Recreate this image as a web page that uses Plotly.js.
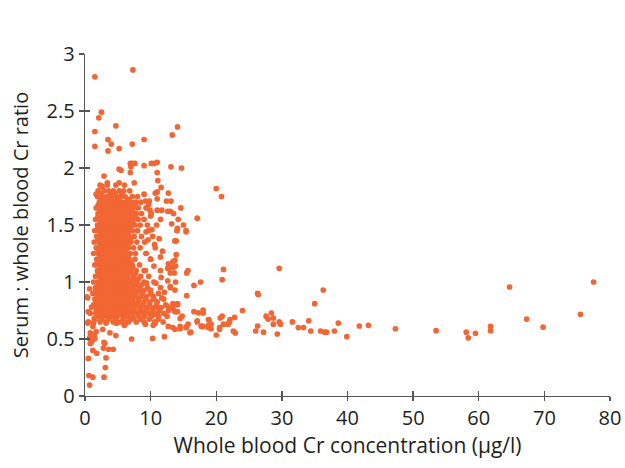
<!DOCTYPE html>
<html>
<head>
<meta charset="utf-8">
<script src="https://cdn.plot.ly/plotly-3.0.1.min.js"></script>
<style>html,body{margin:0;padding:0;background:#fff;}#chart{width:625px;height:468px;}</style>
</head>
<body>
<div id="chart"></div>
<script>
// Dense core of the cloud: one y level per row, x values read across that row
const coreRowY = [1.85, 1.80, 1.75, 1.70, 1.65, 1.60, 1.55, 1.50, 1.45, 1.40, 1.35, 1.30, 1.25,
                  1.20, 1.15, 1.10, 1.05, 1.00, 0.95, 0.90, 0.85, 0.80, 0.75, 0.70, 0.65];
const coreRowX = [
  [2.3, 3.4, 4.7, 6.0],
  [2.0, 2.9, 3.6, 4.3, 5.2, 5.9, 6.8],
  [1.9, 2.6, 3.3, 4.0, 4.7, 5.4, 6.1, 7.2, 8.0],
  [2.2, 2.9, 3.6, 4.2, 4.9, 5.6, 6.2, 7.0, 7.7, 8.5],
  [1.7, 2.4, 3.1, 3.8, 4.5, 5.2, 5.9, 6.6, 7.3, 8.1, 9.3],
  [2.0, 2.7, 3.4, 4.1, 4.8, 5.5, 6.3, 7.0, 7.8, 8.6, 10.1],
  [1.6, 2.3, 3.0, 3.7, 4.4, 5.1, 5.8, 6.5, 7.3, 8.1, 9.0],
  [1.9, 2.6, 3.3, 4.0, 4.7, 5.4, 6.1, 6.8, 7.6, 8.4, 9.5, 10.9],
  [1.5, 2.2, 2.9, 3.6, 4.3, 5.0, 5.7, 6.4, 7.2, 8.0, 9.7],
  [1.8, 2.5, 3.2, 3.9, 4.6, 5.3, 6.0, 6.7, 7.5, 8.6, 10.3],
  [1.4, 2.1, 2.8, 3.5, 4.2, 4.9, 5.6, 6.3, 7.0, 7.9, 9.1],
  [1.7, 2.4, 3.1, 3.8, 4.5, 5.2, 5.9, 6.6, 7.4, 8.4, 10.7],
  [1.3, 2.0, 2.7, 3.4, 4.1, 4.8, 5.5, 6.2, 6.9, 7.7, 9.3],
  [1.8, 2.5, 3.2, 3.9, 4.6, 5.3, 6.0, 6.7, 7.6, 10.0],
  [1.5, 2.2, 2.9, 3.6, 4.3, 5.0, 5.7, 6.4, 7.2, 8.3],
  [1.9, 2.6, 3.3, 4.0, 4.7, 5.4, 6.1, 6.9, 7.8, 9.2, 11.5],
  [1.6, 2.3, 3.0, 3.7, 4.4, 5.1, 5.8, 6.5, 7.4, 8.5],
  [1.3, 2.0, 2.7, 3.4, 4.1, 4.8, 5.5, 6.2, 7.0, 7.9, 9.0, 10.5],
  [1.6, 2.3, 3.0, 3.7, 4.4, 5.1, 5.8, 6.6, 7.4, 8.3, 9.5],
  [1.2, 1.9, 2.6, 3.3, 4.0, 4.7, 5.4, 6.1, 6.9, 7.7, 8.7, 10.0, 11.2],
  [1.5, 2.2, 2.9, 3.6, 4.3, 5.0, 5.7, 6.5, 7.3, 8.2, 9.2, 10.5, 12.0],
  [1.3, 2.0, 2.7, 3.4, 4.1, 4.8, 5.5, 6.3, 7.1, 7.9, 8.8, 9.8, 10.9, 12.3],
  [1.7, 2.4, 3.1, 3.8, 4.5, 5.2, 6.0, 6.7, 7.5, 8.4, 9.3, 10.3, 11.3, 12.7],
  [2.1, 2.8, 3.5, 4.2, 4.9, 5.7, 6.5, 7.3, 8.2, 9.1, 10.1, 11.2, 12.5],
  [3.2, 4.3, 5.4, 6.6, 7.8, 9.0, 10.6, 11.9]
];

// In-between rows of the solid centre of the cloud
const coreHalfY = [1.775, 1.725, 1.675, 1.625, 1.575, 1.525, 1.475, 1.425, 1.375, 1.325, 1.275, 1.225,
                   1.175, 1.125, 1.075, 1.025, 0.975, 0.925, 0.875, 0.825, 0.775, 0.725, 0.675];
const coreHalfX = [
  [2.5, 3.9, 4.6, 5.6],
  [2.35, 3.05, 3.75, 4.45, 5.15, 6.55],
  [2.0, 2.7, 3.4, 4.1, 4.8, 5.5, 6.2, 6.9, 7.7],
  [2.35, 3.05, 3.75, 4.45, 5.15, 5.85, 6.55, 7.3],
  [2.0, 2.7, 3.4, 4.1, 4.8, 5.5, 6.2, 6.9, 7.7],
  [2.35, 3.05, 3.75, 4.45, 5.15, 5.85, 6.55, 7.3],
  [2.0, 2.7, 3.4, 4.1, 4.8, 5.5, 6.2, 6.9],
  [2.35, 3.05, 3.75, 4.45, 5.15, 5.85, 6.55],
  [2.0, 2.7, 3.4, 4.1, 4.8, 5.5, 6.2, 6.9],
  [2.35, 3.05, 3.75, 4.45, 5.15, 5.85, 6.55],
  [2.0, 2.7, 3.4, 4.1, 4.8, 5.5, 6.2],
  [2.35, 3.05, 3.75, 4.45, 5.15, 5.85, 6.55],
  [2.0, 2.7, 3.4, 4.1, 4.8, 5.5, 6.2, 6.9],
  [2.35, 3.05, 3.75, 4.45, 5.15, 5.85, 6.55, 7.3],
  [2.0, 2.7, 3.4, 4.1, 4.8, 5.5, 6.2, 6.9, 7.7],
  [2.35, 3.05, 3.75, 4.45, 5.15, 5.85, 6.55, 7.3, 8.1],
  [2.0, 2.7, 3.4, 4.1, 4.8, 5.5, 6.2, 6.9, 7.7, 8.6],
  [1.65, 2.35, 3.05, 3.75, 4.45, 5.15, 5.85, 6.55, 7.3, 8.1, 9.0, 9.9],
  [1.85, 2.55, 3.25, 3.95, 4.65, 5.35, 6.05, 6.8, 7.6, 8.5, 9.4, 10.4],
  [1.65, 2.35, 3.05, 3.75, 4.45, 5.15, 5.85, 6.55, 7.3, 8.1, 9.0, 9.9, 11.0],
  [1.85, 2.55, 3.25, 3.95, 4.65, 5.35, 6.05, 6.8, 7.6, 8.5, 9.4, 10.4, 11.6],
  [1.65, 2.35, 3.05, 3.75, 4.45, 5.15, 5.85, 6.55, 7.3, 8.1, 9.0, 9.9, 11.0],
  [2.5, 3.6, 4.7, 5.9, 7.1, 8.5, 9.8, 11.2]
];

// Highest points (ratio above ~2.1)
const upperX = [1.5, 7.3, 2.5, 2.1, 1.5, 4.7, 3.5, 4.0, 3.5, 5.2, 7.2, 9.0, 1.5, 13.3, 14.1];
const upperY = [2.80, 2.86, 2.49, 2.44, 2.32, 2.37, 2.25, 2.21, 2.15, 2.17, 2.21, 2.25, 2.19, 2.29, 2.36];

// Points around ratio 1.35 - 2.05 at the edge of the cloud
const highX = [5.2, 5.5, 6.9, 7.2, 7.6, 7.0, 6.9, 9.0, 10.1, 10.5,
               11.0, 11.0, 13.1, 14.7, 2.9, 11.1, 11.6, 11.0, 10.7, 9.0,
               12.7, 5.2, 7.5, 2.6, 2.0, 3.4, 12.4, 13.1, 9.2, 9.8,
               11.0, 11.7, 13.0, 11.0, 9.9, 9.7, 10.0, 11.5, 13.2, 14.1,
               15.4, 10.2, 9.3, 2.5, 1.7, 2.5, 14.2, 15.0, 13.5, 12.6,
               14.6, 17.1, 14.0, 15.4, 13.7, 13.9];
const highY = [1.99, 1.98, 2.04, 2.04, 2.04, 2.01, 1.96, 2.02, 2.04, 2.04,
               2.05, 1.96, 2.01, 2.00, 1.93, 1.89, 1.83, 1.79, 1.78, 1.77,
               1.78, 1.87, 1.87, 1.84, 1.77, 1.87, 1.71, 1.71, 1.71, 1.71,
               1.73, 1.63, 1.62, 1.63, 1.63, 1.68, 1.58, 1.55, 1.51, 1.47,
               1.45, 1.46, 1.44, 1.70, 1.77, 1.84, 1.55, 1.50, 1.60, 1.62,
               1.65, 1.56, 1.45, 1.44, 1.36, 1.36];

// Right flank of the cloud (about 5 - 18 ug/l)
const midX = [13.9, 13.4, 13.7, 13.8, 13.1, 13.6, 13.0, 15.7, 15.5, 16.6,
              13.8, 13.7, 13.0, 15.5, 13.4, 14.1, 13.4, 14.1, 14.8, 16.6,
              17.3, 17.1, 15.7, 14.5, 13.7, 13.4, 15.4, 16.1, 11.5, 12.7,
              12.6, 13.4, 11.6, 13.0, 11.5, 10.0, 9.4, 12.1, 10.4, 11.7,
              12.5, 13.2, 14.1, 13.7, 14.5, 12.0, 11.2, 10.4, 9.9, 8.9,
              8.1, 7.4, 6.1, 4.8, 9.2, 10.7, 9.6, 10.6, 11.3, 10.0,
              9.3, 10.5, 11.8, 9.0, 9.7, 10.8, 12.6, 8.7];
const midY = [1.24, 1.18, 1.19, 1.14, 1.13, 1.08, 1.08, 1.10, 1.08, 0.97,
              1.00, 0.93, 0.95, 0.88, 0.81, 0.81, 0.77, 0.74, 0.70, 0.74,
              0.73, 0.66, 0.63, 0.61, 0.585, 0.60, 0.60, 0.56, 1.22, 1.16,
              1.12, 1.13, 1.04, 0.96, 0.95, 0.93, 0.99, 0.91, 0.86, 0.86,
              0.79, 0.78, 0.80, 0.74, 0.68, 0.725, 0.77, 0.71, 0.78, 0.74,
              0.71, 0.68, 0.63, 0.64, 0.63, 0.64, 1.37, 1.33, 1.38, 1.20,
              1.25, 1.14, 1.27, 1.10, 1.05, 0.99, 1.01, 0.92];

// Long tail to high concentrations
const tailX = [20.0, 20.8, 21.1, 20.9, 29.6, 17.6, 26.3, 26.4, 36.3, 35.0,
               24.0, 18.0, 18.0, 20.6, 20.9, 22.8, 18.9, 22.0, 21.8, 19.2,
               18.8, 17.7, 21.1, 20.5, 18.8, 20.0, 22.6, 22.9, 26.0, 27.2,
               26.3, 27.6, 28.4, 27.9, 28.7, 28.7, 29.3, 29.6, 29.8, 31.6,
               32.5, 33.3, 34.1, 34.4, 35.9, 36.5, 36.8, 38.0, 38.6, 39.9,
               41.8, 43.2, 47.3, 53.5, 58.1, 58.4, 59.5, 61.8, 61.8, 64.7,
               67.3, 69.8, 75.5, 77.5, 18.8, 19.2, 20.5, 21.9, 22.1, 17.1,
               17.8, 18.0];
const tailY = [1.82, 1.75, 1.11, 1.02, 1.12, 1.00, 0.90, 0.89, 0.93, 0.81,
               0.75, 0.754, 0.728, 0.684, 0.70, 0.69, 0.667, 0.649, 0.63, 0.63,
               0.62, 0.614, 0.63, 0.60, 0.60, 0.535, 0.57, 0.553, 0.57, 0.56,
               0.614, 0.70, 0.728, 0.675, 0.684, 0.63, 0.544, 0.65, 0.63, 0.65,
               0.60, 0.60, 0.66, 0.57, 0.57, 0.56, 0.56, 0.57, 0.64, 0.52,
               0.614, 0.62, 0.59, 0.573, 0.56, 0.51, 0.55, 0.61, 0.573, 0.956,
               0.675, 0.605, 0.717, 1.00, 0.67, 0.59, 0.585, 0.64, 0.67, 0.65,
               0.61, 0.61];

// Low ratios and points hugging the y axis
const lowX = [0.4, 1.3, 2.3, 3.2, 4.8, 6.0, 1.2, 2.7, 0.8, 1.4,
              3.8, 4.7, 0.7, 1.5, 1.0, 0.8, 2.9, 7.1, 10.3, 12.1,
              2.8, 3.6, 4.3, 1.2, 1.8, 0.5, 3.2, 3.1, 0.6, 1.2,
              2.9, 0.7, 10.4, 12.7, 14.5, 15.5, 16.0, 0.7, 0.4, 1.0,
              0.8, 1.4, 0.5, 1.7, 0.8, 1.4, 3.0, 1.5, 0.5, 0.3];
const lowY = [0.64, 0.64, 0.65, 0.64, 0.64, 0.62, 0.61, 0.585, 0.555, 0.535,
              0.555, 0.53, 0.505, 0.505, 0.476, 0.46, 0.47, 0.50, 0.505, 0.52,
              0.42, 0.41, 0.41, 0.40, 0.375, 0.33, 0.335, 0.25, 0.18, 0.165,
              0.165, 0.096, 0.62, 0.61, 0.59, 0.61, 0.555, 0.94, 0.86, 0.78,
              0.725, 0.68, 0.65, 0.565, 0.52, 0.50, 0.46, 0.67, 0.74, 0.87];

const xTickVals = [0, 10, 20, 30, 40, 50, 60, 70, 80];
const yTickVals = [0, 0.5, 1, 1.5, 2, 2.5, 3];
const xTitle = 'Whole blood Cr concentration (µg/l)';
const yTitle = 'Serum : whole blood Cr ratio';

// assemble all points
const allX = [], allY = [];
coreRowY.forEach((yv, i) => coreRowX[i].forEach(xv => { allX.push(xv); allY.push(yv); }));
coreHalfY.forEach((yv, i) => coreHalfX[i].forEach(xv => { allX.push(xv); allY.push(yv); }));
[[upperX, upperY], [highX, highY], [midX, midY], [tailX, tailY], [lowX, lowY]].forEach(([gx, gy]) => {
  gx.forEach((xv, i) => { allX.push(xv); allY.push(gy[i]); });
});

const FONT = 'Open Sans, Noto Sans, sans-serif';
const INK = '#231F20';
const AXC = '#555555';

const data = [
  {
    type: 'scatter', mode: 'markers', x: allX, y: allY,
    marker: {color: '#F26633', size: 5.7, line: {width: 0}},
    hoverinfo: 'x+y', showlegend: false
  },
  { // carrier for the inner half of the crossing ticks
    type: 'scatter', mode: 'markers', x: [], y: [], xaxis: 'x2', yaxis: 'y2',
    showlegend: false, hoverinfo: 'skip'
  }
];

const layout = {
  width: 625, height: 468,
  margin: {l: 85, r: 15, t: 54, b: 72},
  paper_bgcolor: '#ffffff', plot_bgcolor: '#ffffff',
  showlegend: false,
  font: {family: FONT, color: INK, size: 20},
  xaxis: {
    range: [0, 80], tickvals: xTickVals, ticks: 'outside', ticklen: 4,
    tickwidth: 1.3, tickcolor: AXC, showline: true, linecolor: AXC, linewidth: 1.3,
    showgrid: false, zeroline: false, fixedrange: true,
    tickfont: {family: FONT, size: 20, color: INK},
    title: {text: xTitle, font: {family: FONT, size: 21, color: INK}, standoff: 0}
  },
  xaxis2: {
    overlaying: 'x', anchor: 'y2', range: [0, 80], tickvals: xTickVals,
    ticks: 'inside', ticklen: 5, tickwidth: 1.3, tickcolor: AXC,
    showticklabels: false, showline: false, showgrid: false, zeroline: false
  },
  yaxis: {
    range: [0, 3], tickvals: yTickVals, ticks: 'outside', ticklen: 5,
    tickwidth: 1.3, tickcolor: AXC, showline: true, linecolor: AXC, linewidth: 1.3,
    showgrid: false, zeroline: false, fixedrange: true,
    tickfont: {family: FONT, size: 20, color: INK},
    title: {text: yTitle, font: {family: FONT, size: 20, color: INK}, standoff: 12}
  },
  yaxis2: {
    overlaying: 'y', anchor: 'x2', side: 'left', range: [0, 3], tickvals: yTickVals,
    ticks: 'inside', ticklen: 5, tickwidth: 1.3, tickcolor: AXC,
    showticklabels: false, showline: false, showgrid: false, zeroline: false
  }
};

Plotly.newPlot('chart', data, layout, {displayModeBar: false, staticPlot: true});
</script>
</body>
</html>
